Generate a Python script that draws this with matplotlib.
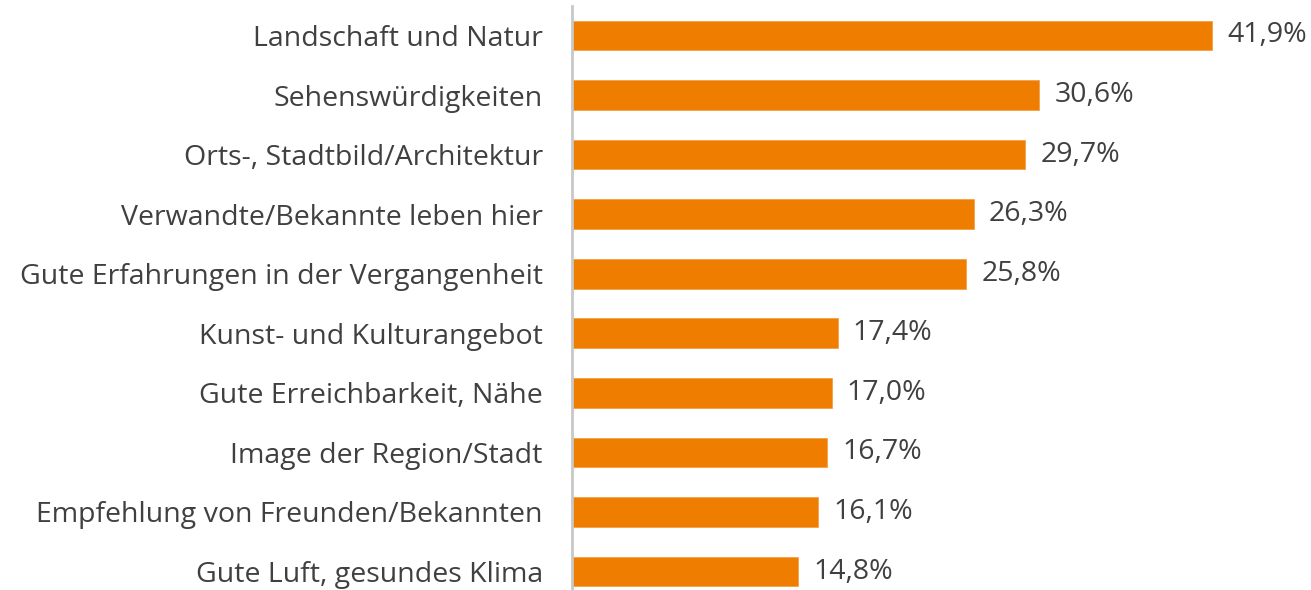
import matplotlib
matplotlib.use("Agg")
import matplotlib.pyplot as plt

categories = [
    "Landschaft und Natur",
    "Sehenswürdigkeiten",
    "Orts-, Stadtbild/Architektur",
    "Verwandte/Bekannte leben hier",
    "Gute Erfahrungen in der Vergangenheit",
    "Kunst- und Kulturangebot",
    "Gute Erreichbarkeit, Nähe",
    "Image der Region/Stadt",
    "Empfehlung von Freunden/Bekannten",
    "Gute Luft, gesundes Klima",
]
values = [41.9, 30.6, 29.7, 26.3, 25.8, 17.4, 17.0, 16.7, 16.1, 14.8]
value_labels = ["41,9%", "30,6%", "29,7%", "26,3%", "25,8%", "17,4%", "17,0%", "16,7%", "16,1%", "14,8%"]

W, H = 1311, 590
fig = plt.figure(figsize=(W / 100, H / 100), dpi=100)
plt.rcParams["font.family"] = ["Open Sans", "DejaVu Sans"]

left_px, top_px = 572, 6
ax = fig.add_axes([left_px / W, 0, 1 - left_px / W, (H - top_px) / H])

bar_color = "#EF7D00"
text_color = "#404040"
fs = 20.5
y = list(range(len(categories)))
ax.barh(y, values, height=0.5, color=bar_color, edgecolor="#F5A04A", linewidth=0.6)

ax.set_xlim(0, 48.4)
ax.set_ylim(9.31, -0.495)

for spine in ["top", "right", "bottom"]:
    ax.spines[spine].set_visible(False)
ax.spines["left"].set_color("#C8C8C8")
ax.spines["left"].set_linewidth(2)
ax.set_xticks([])
ax.set_yticks(y)
ax.set_yticklabels(categories, fontsize=fs, color=text_color)
ax.tick_params(axis="y", length=0, pad=21)

for yi, v, lab in zip(y, values, value_labels):
    ax.annotate(lab, xy=(v, yi), xytext=(11, 0), textcoords="offset points",
                ha="left", va="center", fontsize=fs, color=text_color)

fig.savefig("out.png", dpi=100)
